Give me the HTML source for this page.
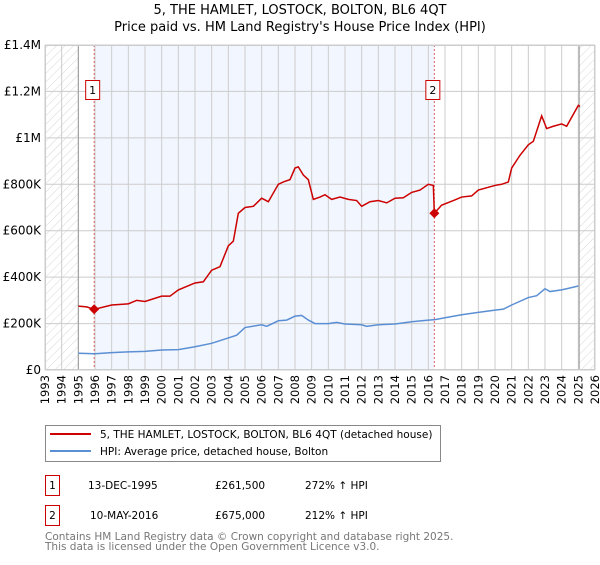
<!DOCTYPE html>
<html><head><meta charset="utf-8"><style>
body{margin:0;background:#fff;}
svg{font-family:"DejaVu Sans","Liberation Sans",sans-serif;}
</style></head><body>
<svg id="c" width="600" height="560" viewBox="0 0 600 560" xmlns="http://www.w3.org/2000/svg">
<defs>
<pattern id="hatch" width="6" height="6" patternUnits="userSpaceOnUse" patternTransform="rotate(45)">
<line x1="0" y1="0" x2="0" y2="6" stroke="#ccc" stroke-width="0.8"/>
</pattern>
</defs>
<text x="300" y="14" text-anchor="middle" font-size="13">5, THE HAMLET, LOSTOCK, BOLTON, BL6 4QT</text>
<text x="300" y="31" text-anchor="middle" font-size="13">Price paid vs. HM Land Registry's House Price Index (HPI)</text>
<g id="plot"></g>
<g id="legend">
<rect x="45.5" y="425.5" width="395" height="36" fill="#fff" stroke="#888"/>
<line x1="50" y1="434" x2="91" y2="434" stroke="#cc0000" stroke-width="2"/>
<text x="100" y="438" font-size="10.5">5, THE HAMLET, LOSTOCK, BOLTON, BL6 4QT (detached house)</text>
<line x1="50" y1="451" x2="91" y2="451" stroke="#5b8fd4" stroke-width="2"/>
<text x="100" y="455" font-size="10.5">HPI: Average price, detached house, Bolton</text>
</g>
<g font-size="10.5">
<rect x="45.5" y="475.5" width="14" height="20" fill="#fff" stroke="#cc0000"/>
<text x="52.5" y="489" text-anchor="middle">1</text>
<text x="88" y="489">13-DEC-1995</text>
<text x="215" y="489">£261,500</text>
<text x="305" y="489">272% ↑ HPI</text>
<rect x="45.5" y="505.5" width="14" height="20" fill="#fff" stroke="#cc0000"/>
<text x="52.5" y="519" text-anchor="middle">2</text>
<text x="90" y="519">10-MAY-2016</text>
<text x="215" y="519">£675,000</text>
<text x="305" y="519">212% ↑ HPI</text>
</g>
<text x="45" y="540" font-size="10.5" fill="#777">Contains HM Land Registry data © Crown copyright and database right 2025.</text>
<text x="45" y="550" font-size="10.5" fill="#777">This data is licensed under the Open Government Licence v3.0.</text>
</svg>
<script>
const yTicks=[0,200000,400000,600000,800000,1000000,1200000,1400000];
const yTickLabels=["£0","£200K","£400K","£600K","£800K","£1M","£1.2M","£1.4M"];
const years=[1993,1994,1995,1996,1997,1998,1999,2000,2001,2002,2003,2004,2005,2006,2007,2008,2009,2010,2011,2012,2013,2014,2015,2016,2017,2018,2019,2020,2021,2022,2023,2024,2025,2026];
const hpiT=[1995,1995.5,1996,1997,1998,1999,2000,2001,2002,2003,2004,2004.5,2005,2006,2006.3,2007,2007.5,2008,2008.4,2008.8,2009.2,2010,2010.5,2011,2012,2012.3,2013,2014,2015,2016,2016.4,2017,2018,2019,2020,2020.5,2021,2022,2022.5,2023,2023.3,2024,2024.3,2025];
const hpiV=[72000,71000,70000,75000,78000,80000,86000,88000,100000,115000,138000,150000,183000,195000,188000,212000,215000,232000,235000,215000,200000,200000,205000,198000,195000,188000,195000,198000,208000,215000,217000,225000,238000,248000,258000,262000,280000,312000,320000,350000,338000,345000,350000,362000];
const priceT=[1995,1995.5,1995.95,1997,1998,1998.5,1999,2000,2000.5,2001,2002,2002.5,2003,2003.5,2004,2004.3,2004.6,2005,2005.5,2006,2006.4,2007,2007.3,2007.7,2008,2008.2,2008.5,2008.8,2009.1,2009.5,2009.8,2010.2,2010.7,2011.2,2011.7,2012,2012.5,2013,2013.5,2014,2014.5,2015,2015.5,2016,2016.3,2016.36,2016.8,2017.5,2018,2018.6,2019,2020,2020.4,2020.8,2021,2021.5,2022,2022.3,2022.8,2023.1,2023.5,2024,2024.3,2025,2025.1];
const priceV=[275000,272000,261500,280000,285000,300000,295000,318000,318000,345000,375000,380000,430000,445000,535000,555000,675000,700000,705000,740000,725000,800000,810000,820000,870000,875000,840000,820000,735000,745000,755000,735000,745000,735000,730000,705000,725000,730000,720000,740000,742000,765000,775000,800000,795000,675000,710000,730000,745000,750000,775000,795000,800000,810000,870000,925000,970000,985000,1095000,1040000,1050000,1060000,1050000,1140000,1135000];
const sales=[{t:1995.95,v:261500,n:"1"},{t:2016.36,v:675000,n:"2"}];

const X0=45,X1=595,Y0=370,Y1=45;
const x=t=>X0+(t-1993)/(2026-1993)*(X1-X0);
const y=v=>Y0-v/1400000*(Y0-Y1);
const NS="http://www.w3.org/2000/svg";
const g=document.getElementById('plot');
function mk(tag,attrs,parent){const e=document.createElementNS(NS,tag);for(const k in attrs)e.setAttribute(k,attrs[k]);(parent||g).appendChild(e);return e;}

let e;
e=mk('rect',{x:x(sales[0].t),y:Y1,width:x(sales[1].t)-x(sales[0].t),height:Y0-Y1,fill:'#f2f6fe'});


e=mk('rect',{x:X0,y:Y1,width:x(1995)-X0,height:Y0-Y1,fill:'url(#hatch)'});


e=mk('rect',{x:x(2025.05),y:Y1,width:X1-x(2025.05),height:Y0-Y1,fill:'url(#hatch)'});



years.forEach(yr=>{
 e=mk('line',{x1:x(yr),x2:x(yr),y1:Y1,y2:Y0,stroke:'#ccc','stroke-width':1});
 
 
 e=mk('text',{transform:`translate(${x(yr)+4},${Y0+5}) rotate(-90)`,'text-anchor':'end','font-size':11.5});
 e.textContent=yr;
 
 
});
yTicks.forEach((v,i)=>{
 e=mk('line',{x1:X0,x2:X1,y1:y(v),y2:y(v),stroke:'#ccc','stroke-width':1});
 
 
 e=mk('text',{x:X0-4,y:y(v)+4,'text-anchor':'end','font-size':12});
 e.textContent=yTickLabels[i];
 
 
});
e=mk('line',{x1:x(1995),x2:x(1995),y1:Y1,y2:Y0,stroke:'#999','stroke-width':1});


e=mk('line',{x1:x(2025.05),x2:x(2025.05),y1:Y1,y2:Y0,stroke:'#999','stroke-width':1});



sales.forEach(s=>{
 e=mk('line',{x1:x(s.t),x2:x(s.t),y1:Y1,y2:Y0,stroke:'#e06060','stroke-width':1,'stroke-dasharray':'2,2'});
 
 
 e=mk('rect',{x:x(s.t)-8.5,y:80.5,width:14,height:19,fill:'#fff',stroke:'#cc0000'});
 
 
 e=mk('text',{x:x(s.t)-1.5,y:94,'text-anchor':'middle','font-size':11});
 e.textContent=s.n;
 
 
});

e=mk('polyline',{points:hpiT.map((t,i)=>x(t)+','+y(hpiV[i])).join(' '),fill:'none',stroke:'#5b8fd4','stroke-width':1.5});


e=mk('polyline',{points:priceT.map((t,i)=>x(t)+','+y(priceV[i])).join(' '),fill:'none',stroke:'#cc0000','stroke-width':1.5});


sales.forEach(s=>{
 e=mk('path',{d:`M${x(s.t)-5},${y(s.v)} L${x(s.t)},${y(s.v)-5} L${x(s.t)+5},${y(s.v)} L${x(s.t)},${y(s.v)+5}Z`,fill:'#cc0000'});
 
 
});
e=mk('rect',{x:X0+0.5,y:Y1+0.5,width:X1-X0-1,height:Y0-Y1-1,fill:'none',stroke:'#ccc'});


</script>
</body></html>
